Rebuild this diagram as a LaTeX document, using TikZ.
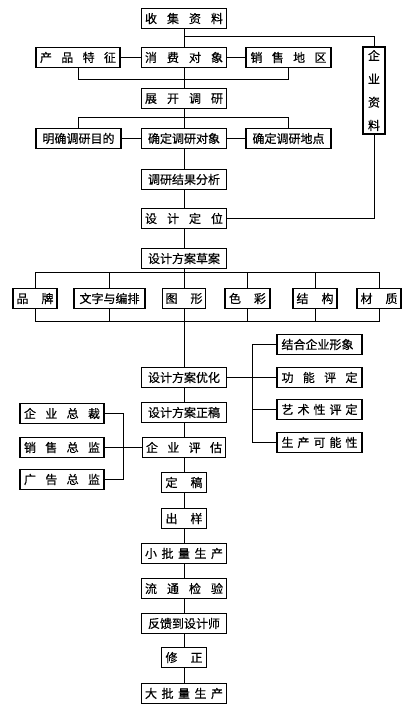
\documentclass[tikz,border=0pt]{standalone}
\usepackage{fontspec}
\newfontfamily\cjk{Noto Sans CJK SC}[FakeBold=0.5]
\newcommand{\spaced}[2]{\makebox[#1][s]{#2}}

\begin{document}
\begin{tikzpicture}[x=1pt,y=-1pt,line width=1pt,
  box/.style={rectangle,draw,line width=1.4pt,minimum width=85pt,minimum height=20pt,inner xsep=3pt,inner ysep=0pt,font=\cjk\fontsize{12}{14}\selectfont},
  sbox/.style={box,minimum width=44pt}]
\useasboundingbox (0,0) rectangle (416,709);
% research
\node [box] (shouji) at (184,18.5) {\spaced{78pt}{收\hfill 集\hfill 资\hfill 料}};
\node [box] (xiaofei) at (184,57.5) {\spaced{78pt}{消\hfill 费\hfill 对\hfill 象}};
\node [box,minimum width=84pt] (chanpin) at (78,57.5) {\spaced{76pt}{产\hfill 品\hfill 特\hfill 征}};
\node [box] (diqu) at (288.5,57.5) {\spaced{76pt}{销\hfill 售\hfill 地\hfill 区}};
\node [box,minimum width=22pt,minimum height=87pt,inner xsep=0pt] (qiye) at (374,90.5) {\parbox[c][80pt][s]{12pt}{\centering 企\vfill 业\vfill 资\vfill 料}};
\node [box] (zhankai) at (184,98.5) {\spaced{78pt}{展\hfill 开\hfill 调\hfill 研}};
\node [box] (mudi) at (78.5,138.5) {明确调研目的};
\node [box] (duixiang) at (184,138.5) {确定调研对象};
\node [box] (didian) at (288.5,138.5) {确定调研地点};
\node [box] (fenxi) at (184,179.5) {调研结果分析};
\node [box] (dingwei) at (184,218.5) {\spaced{78pt}{设\hfill 计\hfill 定\hfill 位}};
% design
\node [box] (caoan) at (184,258.5) {设计方案草案};
\node [sbox] (pinpai) at (35,298.5) {\spaced{37pt}{品\hfill 牌}};
\node [box,minimum width=71pt] (wenzi) at (109.5,298.5) {文字与编排};
\node [sbox,minimum width=43pt] (tuxing) at (184,298.5) {\spaced{37pt}{图\hfill 形}};
\node [sbox,minimum width=45pt] (secai) at (247.5,298.5) {\spaced{37pt}{色\hfill 彩}};
\node [sbox] (jiegou) at (315,298.5) {\spaced{37pt}{结\hfill 构}};
\node [sbox] (caizhi) at (379,298.5) {\spaced{37pt}{材\hfill 质}};
\node [box] (youhua) at (184,377.5) {设计方案优化};
\node [box] (xingxiang) at (319.5,344.5) {\spaced{76pt}{结合企业形象}};
\node [box] (gongneng) at (319.5,377.5) {\spaced{76pt}{功\hfill 能\hfill 评\hfill 定}};
\node [box] (yishu) at (319.5,409.5) {\spaced{76pt}{艺\hfill 术\hfill 性\hfill 评\hfill 定}};
\node [box] (kenengxing) at (319.5,442.5) {\spaced{76pt}{生\hfill 产\hfill 可\hfill 能\hfill 性}};
\node [box] (zhenggao) at (184,412.5) {设计方案正稿};
\node [box,minimum width=83pt] (pinggu) at (184,447.5) {\spaced{76pt}{企\hfill 业\hfill 评\hfill 估}};
\node [box,minimum width=84pt] (zongcai) at (62,413.5) {\spaced{76pt}{企\hfill 业\hfill 总\hfill 裁}};
\node [box,minimum width=84pt] (xiaoshou) at (62,447.5) {\spaced{76pt}{销\hfill 售\hfill 总\hfill 监}};
\node [box,minimum width=84pt] (guanggao) at (62,479.5) {\spaced{76pt}{广\hfill 告\hfill 总\hfill 监}};
% production
\node [sbox,minimum width=45pt] (dinggao) at (184,482.5) {\spaced{37pt}{定\hfill 稿}};
\node [sbox,minimum width=45pt] (chuyang) at (184,518.5) {\spaced{37pt}{出\hfill 样}};
\node [box] (xiaopiliang) at (184,553.5) {\spaced{78pt}{小\hfill 批\hfill 量\hfill 生\hfill 产}};
\node [box] (liutong) at (184,588.5) {\spaced{78pt}{流\hfill 通\hfill 检\hfill 验}};
\node [box] (fankui) at (184,623.5) {反馈到设计师};
\node [sbox,minimum width=45pt] (xiuzheng) at (184,657.5) {\spaced{37pt}{修\hfill 正}};
\node [box] (dapiliang) at (184,693.5) {\spaced{78pt}{大\hfill 批\hfill 量\hfill 生\hfill 产}};

% connectors
\draw (shouji) -- (xiaofei) -- (zhankai) -- (duixiang) -- (fenxi) -- (dingwei) -- (caoan) -- (tuxing) -- (youhua) -- (zhenggao) -- (pinggu) -- (dinggao) -- (chuyang) -- (xiaopiliang) -- (liutong) -- (fankui) -- (xiuzheng) -- (dapiliang);
\coordinate (fork) at (184,37);
\draw (fork) -| (qiye.north);
\draw (dingwei.east) -| (qiye.south);
\draw (chanpin) -- (xiaofei) -- (diqu);
\draw (chanpin.south) -- ++(0,11) -| (diqu.south);
\draw (mudi) -- (duixiang) -- (didian);
\draw (mudi.north) -- ++(0,-10.5) -| (didian.north);
\draw (pinpai.north) -- ++(0,-15.5) -| (caizhi.north);
\draw (pinpai.south) -- ++(0,12.5) -| (caizhi.south);
\foreach \n in {wenzi,secai,jiegou} {
  \draw (\n.north) -- ++(0,-15.5);
  \draw (\n.south) -- ++(0,12.5);
}
\draw (youhua) -- (gongneng);
\draw (xingxiang.west) -- ++(-24,0) |- (kenengxing.west);
\draw (yishu.west) -- ++(-24,0);
\draw (xiaoshou) -- (pinggu);
\draw (zongcai.east) -- ++(19,0) |- (guanggao.east);
\end{tikzpicture}
\end{document}
